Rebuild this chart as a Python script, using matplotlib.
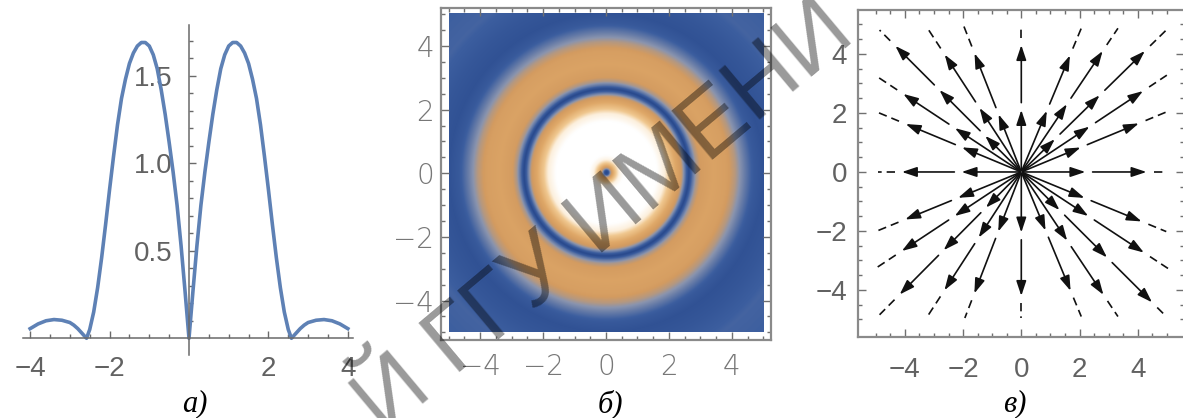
import numpy as np
import matplotlib
matplotlib.use("Agg")
import matplotlib.pyplot as plt
from matplotlib.colors import LinearSegmentedColormap
from matplotlib.patches import FancyArrowPatch

# ---- panel a: curve (x >= 0 half, the plot is symmetric)
curve_x = [0.0, 0.1, 0.2, 0.3, 0.4, 0.5, 0.6, 0.7, 0.8, 0.9, 1.0, 1.1, 1.2,
           1.3, 1.4, 1.5, 1.6, 1.7, 1.8, 1.9, 2.0, 2.1, 2.2, 2.3, 2.4, 2.5,
           2.58, 2.7, 2.8, 2.9, 3.0, 3.2, 3.4, 3.6, 3.8, 4.0]
curve_y = [0.0, 0.27, 0.53, 0.76, 0.95, 1.12, 1.28, 1.42, 1.54, 1.62, 1.67,
           1.69, 1.69, 1.67, 1.63, 1.57, 1.48, 1.37, 1.22, 1.04, 0.85, 0.65,
           0.46, 0.29, 0.15, 0.05, 0.0, 0.03, 0.055, 0.075, 0.09, 0.103,
           0.107, 0.1, 0.082, 0.055]

# ---- panel b: radial colour level of the density plot (0 = dark blue, 1 = white)
dens_r = [0.0, 0.06, 0.12, 0.2, 0.3, 0.42, 0.55, 1.6, 1.85, 2.0, 2.2, 2.4,
          2.52, 2.62, 2.72, 2.85, 3.0, 3.4, 3.8, 4.1, 4.4, 4.7, 5.0, 5.5,
          6.2, 7.2]
dens_level = [0.0, 0.1, 0.4, 0.58, 0.75, 0.92, 1.0, 1.0, 0.88, 0.74, 0.6,
              0.47, 0.25, 0.02, 0.25, 0.43, 0.51, 0.56, 0.53, 0.45, 0.3,
              0.16, 0.1, 0.14, 0.22, 0.2]
dens_colors = ["#26468a", "#3c5e9f", "#8a94ae", "#d39b60", "#dfa868",
               "#f0c890", "#fcefdc", "#ffffff"]
dens_stops = [0.0, 0.2, 0.38, 0.5, 0.6, 0.75, 0.88, 1.0]

# ---- panel c: stream rays (end points) and arrow tip radii on each ray
ray_x = [5.0, 5.0, 5.0, 4.98, 3.32, 2.06, 0.0, -1.97, -3.26, -4.87, -4.98, -4.98,
         -4.92, -4.98, -4.98, -4.87, -3.26, -1.94, 0.0, 2.06, 3.32, 4.93, 5.04, 4.98]
ray_y = [0.0, 2.04, 3.28, 4.81, 4.87, 4.87, 4.88, 4.93, 4.93, 4.81, 3.25, 2.04,
         0.0, -2.01, -3.25, -4.84, -4.95, -4.95, -4.95, -4.9, -4.9, -4.85, -3.27, -2.02]
arrow_r = [[2.2, 4.3], [2.2, 4.36], [2.8, 5.0], [1.6, 3.74, 5.9], [2.78, 4.96],
           [2.25, 4.29], [2.1, 4.3], [2.1, 4.33], [2.6, 4.77], [1.74, 3.95, 6.08],
           [2.72, 4.84], [2.2, 4.29], [2.05, 4.1], [2.34, 4.3], [2.73, 4.9],
           [1.71, 3.76, 5.89], [2.66, 4.8], [2.17, 4.42], [2.05, 4.2], [2.15, 4.37],
           [2.81, 5.03], [1.84, 4.13, 6.3], [2.74, 5.02], [2.34, 4.46]]

captions = ["а)", "б)", "в)"]
watermark = "Й ГГУ ИМЕНИ"

W, H = 1183, 418
fig = plt.figure(figsize=(W / 100, H / 100), dpi=100)


def add_px_axes(left, top, right, bottom):
    return fig.add_axes([left / W, 1 - bottom / H, (right - left) / W, (bottom - top) / H])


tick_col = "#626262"
sans = ["Liberation Sans", "DejaVu Sans"]

# ---------------- panel a
ax1 = add_px_axes(23.4, 25.0, 353.4, 354.9)
xs = np.concatenate([-np.array(curve_x[::-1]), np.array(curve_x[1:])])
ys = np.concatenate([np.array(curve_y[::-1]), np.array(curve_y[1:])])
ax1.plot(xs, ys, color="#5e81b5", lw=2.6, solid_joinstyle="round", clip_on=False)
ax1.set_xlim(-4.17, 4.14)
ax1.set_ylim(-0.095, 1.79)
for s in ["top", "right"]:
    ax1.spines[s].set_visible(False)
ax1.spines["left"].set_position(("data", 0))
ax1.spines["bottom"].set_position(("data", 0))
for s in ["left", "bottom"]:
    ax1.spines[s].set_color("#6a6a6a")
    ax1.spines[s].set_linewidth(1.1)
ax1.set_xticks([-4, -2, 2, 4])
ax1.set_xticks(np.arange(-4, 4.01, 0.5), minor=True)
ax1.set_yticks([0.5, 1.0, 1.5])
ax1.set_yticklabels(["0.5", "1.0", "1.5"])
ax1.set_yticks(np.arange(0.1, 1.75, 0.1), minor=True)
ax1.tick_params(which="both", direction="in", color="#6a6a6a", width=1.0,
                labelsize=20, labelcolor=tick_col)
ax1.tick_params(which="major", length=5)
ax1.tick_params(which="minor", length=3)
ax1.tick_params(axis="x", pad=13)
ax1.tick_params(axis="y", pad=12)
ax1.patch.set_alpha(0)
for lab in ax1.get_xticklabels() + ax1.get_yticklabels():
    lab.set_family(sans)

# ---------------- panel b
ax2 = add_px_axes(440.9, 7.9, 771.1, 340.3)
cmap = LinearSegmentedColormap.from_list("dens", list(zip(dens_stops, dens_colors)))
g = np.linspace(-5, 5, 700)
gx, gy = np.meshgrid(g, g)
field = np.interp(np.hypot(gx, gy), dens_r, dens_level)
ax2.imshow(field, extent=[-5, 5, -5, 5], origin="lower", cmap=cmap, vmin=0, vmax=1,
           interpolation="bilinear")
ax2.set_xlim(-5.25, 5.25)
ax2.set_ylim(-5.25, 5.2)
ax2.set_aspect("auto")

# ---------------- panel c
ax3 = add_px_axes(858.3, 10.0, 1184.3, 336.6)
for ex, ey, tips in zip(ray_x, ray_y, arrow_r):
    ang = np.arctan2(ey, ex)
    c, s = np.cos(ang), np.sin(ang)
    rend = np.hypot(ex, ey)
    start = 0.05
    for t in tips:
        ax3.add_patch(FancyArrowPatch((start * c, start * s), (t * c, t * s),
                                      arrowstyle="-|>,head_length=0.6,head_width=0.2",
                                      mutation_scale=15, lw=1.2, color="#111111",
                                      shrinkA=0, shrinkB=0))
        start = t + 0.25
    ax3.plot([start * c, rend * c], [start * s, rend * s], color="#111111", lw=1.2,
             ls=(0, (5, 3)))
ax3.set_xlim(-5.6, 5.6)
ax3.set_ylim(-5.58, 5.49)

for ax, lab_family, lab_size, lab_col, wt, xpad, ypad in [
        (ax2, ["DejaVu Sans"], 20, "#777777", "light", 9, 5),
        (ax3, sans, 20, tick_col, "normal", 15, 8)]:
    ax.set_xticks([-4, -2, 0, 2, 4])
    ax.set_yticks([-4, -2, 0, 2, 4])
    ax.set_xticks(np.arange(-5, 5.01, 0.5), minor=True)
    ax.set_yticks(np.arange(-5, 5.01, 0.5), minor=True)
    ax.tick_params(which="both", direction="in", top=True, right=True,
                   color="#707070", width=1.0, labelsize=lab_size, labelcolor=lab_col)
    ax.tick_params(which="major", length=6)
    ax.tick_params(which="minor", length=3)
    ax.tick_params(axis="x", pad=xpad)
    ax.tick_params(axis="y", pad=ypad)
    for lab in ax.get_xticklabels() + ax.get_yticklabels():
        lab.set_family(lab_family)
        lab.set_fontweight(wt)
    for sp in ax.spines.values():
        sp.set_color("#8a8a8a")
        sp.set_linewidth(1.6)

# captions
for cx, text in zip([195, 610, 1015], captions):
    fig.text(cx / W, 1 - 404 / H, text, ha="center", va="center", fontsize=22,
             style="italic", family=["Liberation Serif", "DejaVu Serif"])

# watermark
fig.text(857 / W, 1 - 38 / H, watermark, ha="right", va="baseline", rotation=40,
         rotation_mode="anchor", fontsize=67, color="black", alpha=0.4,
         family=sans, zorder=10)

fig.savefig("out.png", dpi=100)
